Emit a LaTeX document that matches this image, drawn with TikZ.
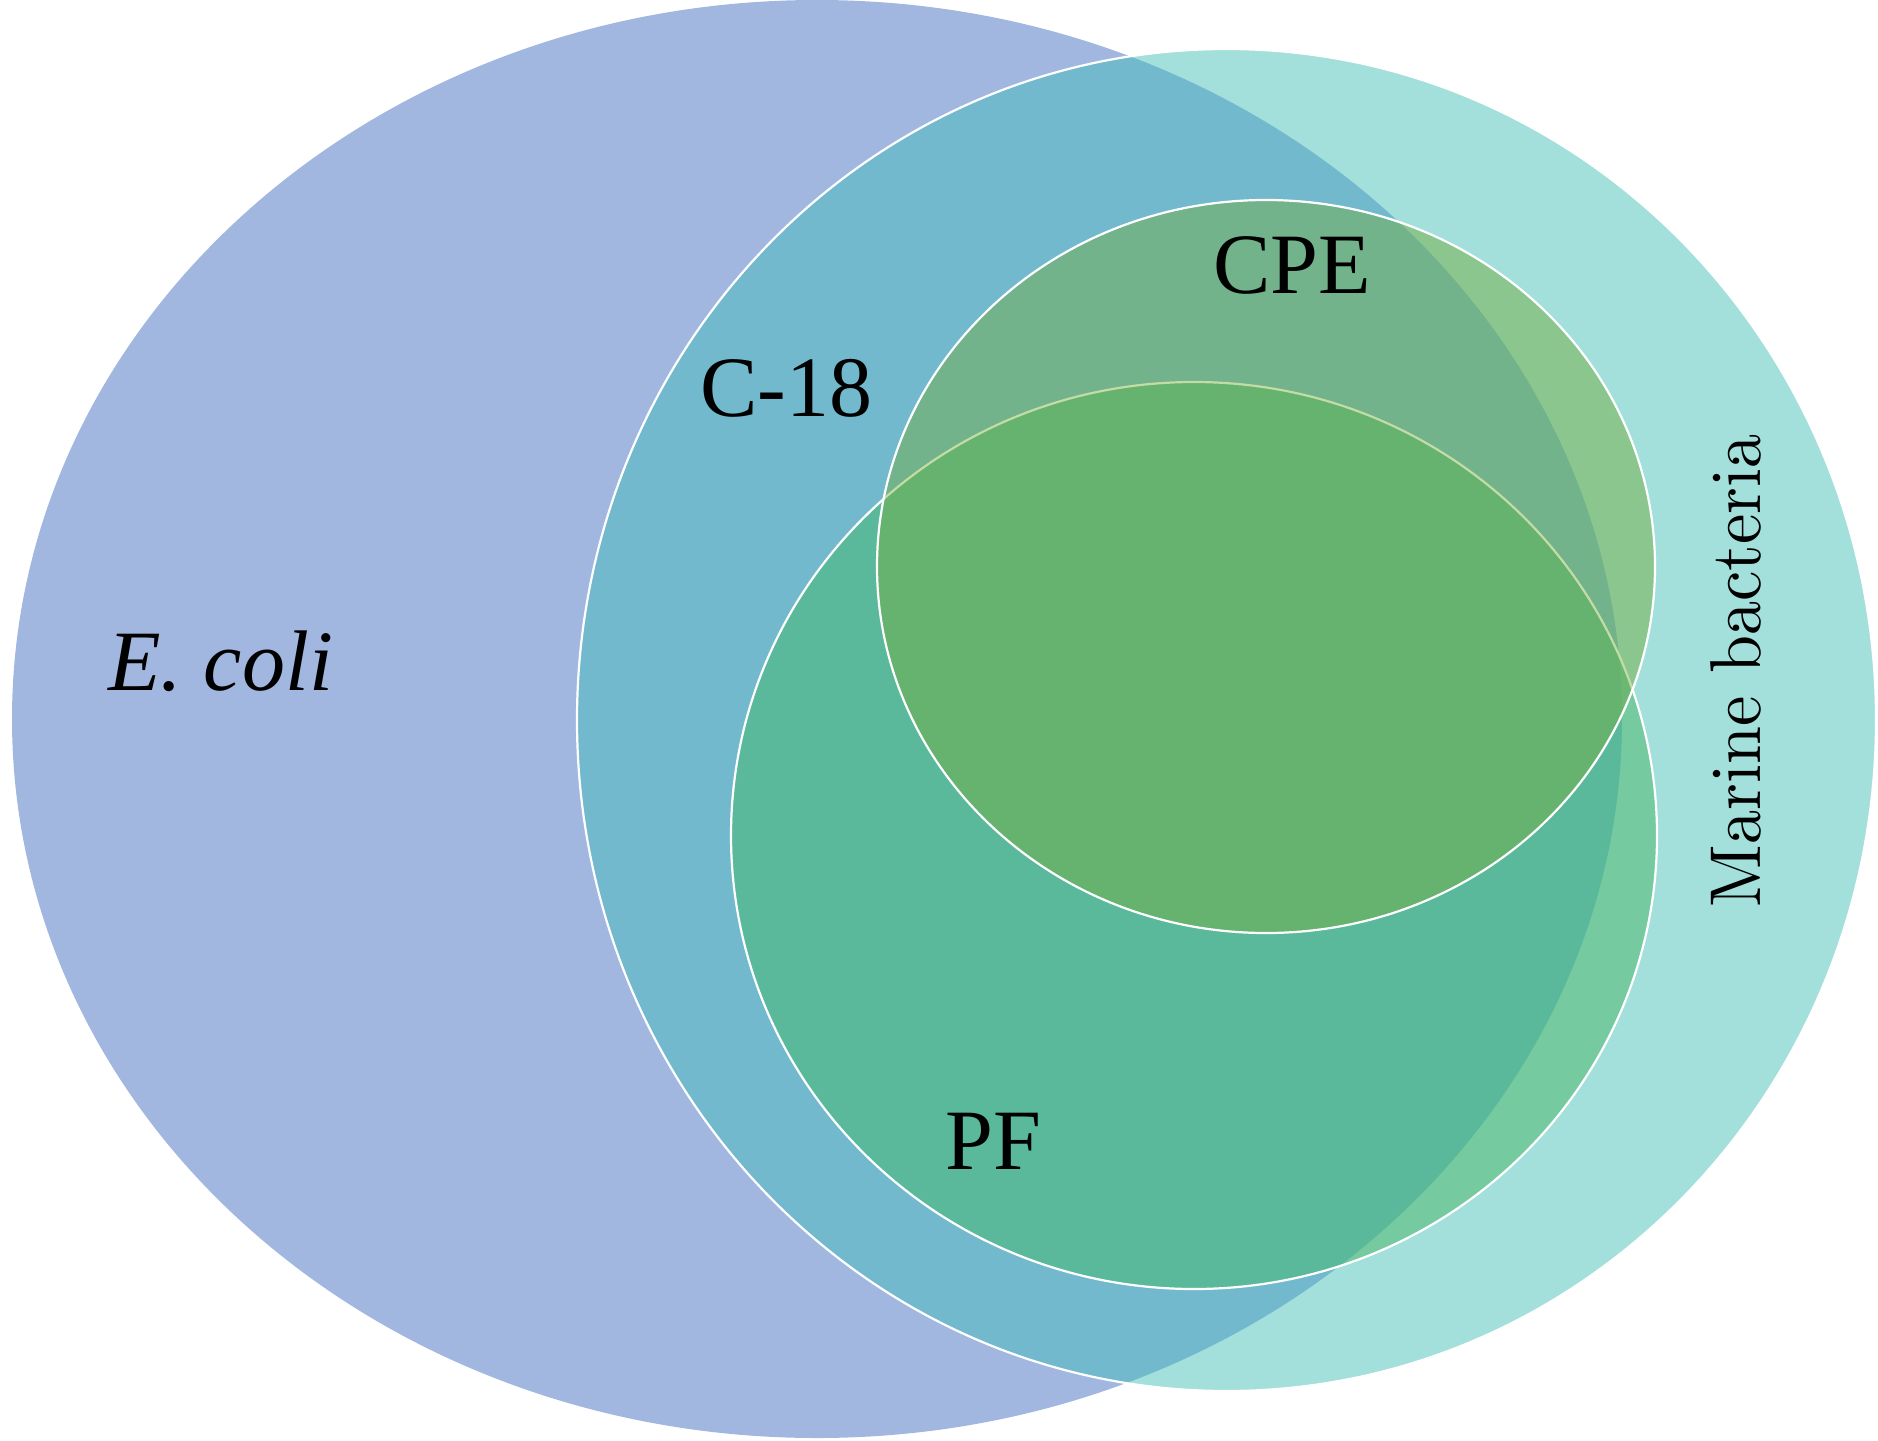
\documentclass[tikz,border=0pt]{standalone}
\usepackage{fontspec}
\newfontfamily\tnr{Liberation Serif}
\definecolor{ecC}{HTML}{A1B7E0}
\definecolor{mbC}{HTML}{A3DFDB}
\definecolor{ovC}{HTML}{72B9CD}
\definecolor{pfoC}{HTML}{76CAA0}
\definecolor{pfiC}{HTML}{5BB99B}
\definecolor{cpeoC}{HTML}{8BC68F}
\definecolor{cpeiC}{HTML}{72B38B}
\definecolor{bothC}{HTML}{66B26F}
\definecolor{bothoC}{HTML}{6CB873}
\definecolor{paleC}{HTML}{C3DCA5}
\tikzset{
  rim/.style={draw=white, line width=1.1pt},
  lbl/.style={inner sep=0pt, anchor=base west, font=\tnr\fontsize{43}{50}\selectfont},
}
\def\ecoli{(817,-719) ellipse [x radius=805, y radius=719]}
\def\marine{(1226.5,-720) ellipse [x radius=649.5, y radius=671]}
\def\cpe{(1266,-566.5) ellipse [x radius=389, y radius=366.5]}
\def\pf{(1194,-835.5) ellipse [x radius=463, y radius=453.5]}
\begin{document}
\begin{tikzpicture}[x=0.5pt,y=0.5pt]
\useasboundingbox (0,0) rectangle (1878,-1440);
% E. coli and marine bacteria
\fill[ecC] \ecoli;
\fill[mbC] \marine;
\begin{scope}
  \clip \ecoli;
  \fill[ovC] \marine;
\end{scope}
\draw[rim] \marine;
% PF
\fill[pfoC] \pf;
\begin{scope}
  \clip \ecoli;
  \fill[pfiC] \pf;
\end{scope}
\draw[rim] \pf;
% CPE
\fill[cpeoC] \cpe;
\begin{scope}
  \clip \ecoli;
  \fill[cpeiC] \cpe;
\end{scope}
\begin{scope}
  \clip \pf;
  \fill[bothoC] \cpe;
  \clip \ecoli;
  \fill[bothC] \cpe;
\end{scope}
\begin{scope}
  \clip \cpe;
  \draw[paleC, line width=1.1pt] \pf;
\end{scope}
\draw[rim] \cpe;
% labels
\node[lbl] (ec) at (108,-690) {\itshape E. coli};
\node[lbl] (c18) at (700,-416) {C-18};
\node[lbl] (cpel) at (1213,-293) {CPE};
\node[lbl] (pfl) at (945,-1169) {PF};
\node[inner sep=0pt, anchor=base west, rotate=90] (mbl) at (1760,-908)
  {\scalebox{3.42}[3.6]{\fontsize{10}{12}\selectfont Marine bacteria}};
\end{tikzpicture}
\end{document}
